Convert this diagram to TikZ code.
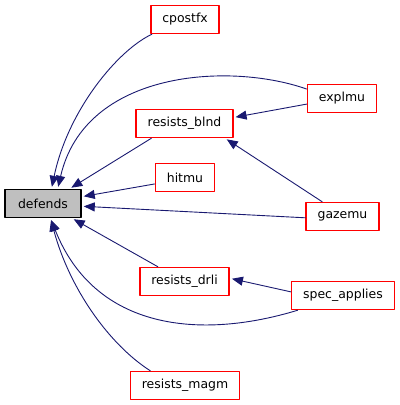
\documentclass[tikz,border=0pt]{standalone}
\usepackage{fontspec}
\setmainfont{DejaVu Sans}
\usetikzlibrary{arrows.meta,positioning}
\definecolor{cgnavy}{HTML}{191970}
\definecolor{cggray}{HTML}{BFBFBF}
\tikzset{
  every picture/.append style={line cap=round,line join=round},
  cg node/.style={rectangle,line width=1.5bp,minimum height=28bp,inner xsep=11.5bp,inner ysep=0pt,
    font=\fontsize{12.5}{14}\selectfont,text=black},
  cg caller/.style={cg node,draw=red,fill=white},
  cg root/.style={cg node,draw=black,fill=cggray,minimum width=76bp},
  cg edge/.style={cgnavy,line width=0.9bp,shorten >=2bp,-{Triangle[length=11bp,width=9bp]}}
}
\begin{document}
\begin{tikzpicture}[x=1bp,y=-1bp]
  \useasboundingbox (0,0) rectangle (400,405);
  \node[cg root] (defends) at (43,203.5) {defends};
  \node[cg caller] (cpostfx) at (185,19.5) {cpostfx};
  \node[cg caller] (blnd) at (184.5,123.5) {resists\_blnd};
  \node[cg caller] (hitmu) at (185,177.5) {hitmu};
  \node[cg caller] (drli) at (184.5,281.5) {resists\_drli};
  \node[cg caller] (magm) at (185,385.5) {resists\_magm};
  \node[cg caller] (explmu) at (342,98.5) {explmu};
  \node[cg caller] (gazemu) at (342.5,216.5) {gazemu};
  \node[cg caller] (spec) at (343,295.5) {spec\_applies};
  % callers of defends
  \draw[cg edge] (cpostfx.204) .. controls (118,50) and (68,110) .. (defends.60);
  \draw[cg edge] (explmu.165) .. controls (230,62) and (85,70) .. (defends.45);
  \draw[cg edge] (blnd.204) -- (defends.29);
  \draw[cg edge] (hitmu.192) -- (defends.10);
  \draw[cg edge] (gazemu.182) -- (defends.-4);
  \draw[cg edge] (drli.151) -- (defends.-27);
  \draw[cg edge] (spec.198) .. controls (200,340) and (95,330) .. (defends.-63);
  \draw[cg edge] (magm.157) .. controls (110,345) and (70,290) .. (defends.-63);
  % second level
  \draw[cg edge] (explmu.189) -- (blnd.7);
  \draw[cg edge] (gazemu.144) -- (blnd.-20);
  \draw[cg edge] (spec.176) -- (drli.4);
\end{tikzpicture}
\end{document}
